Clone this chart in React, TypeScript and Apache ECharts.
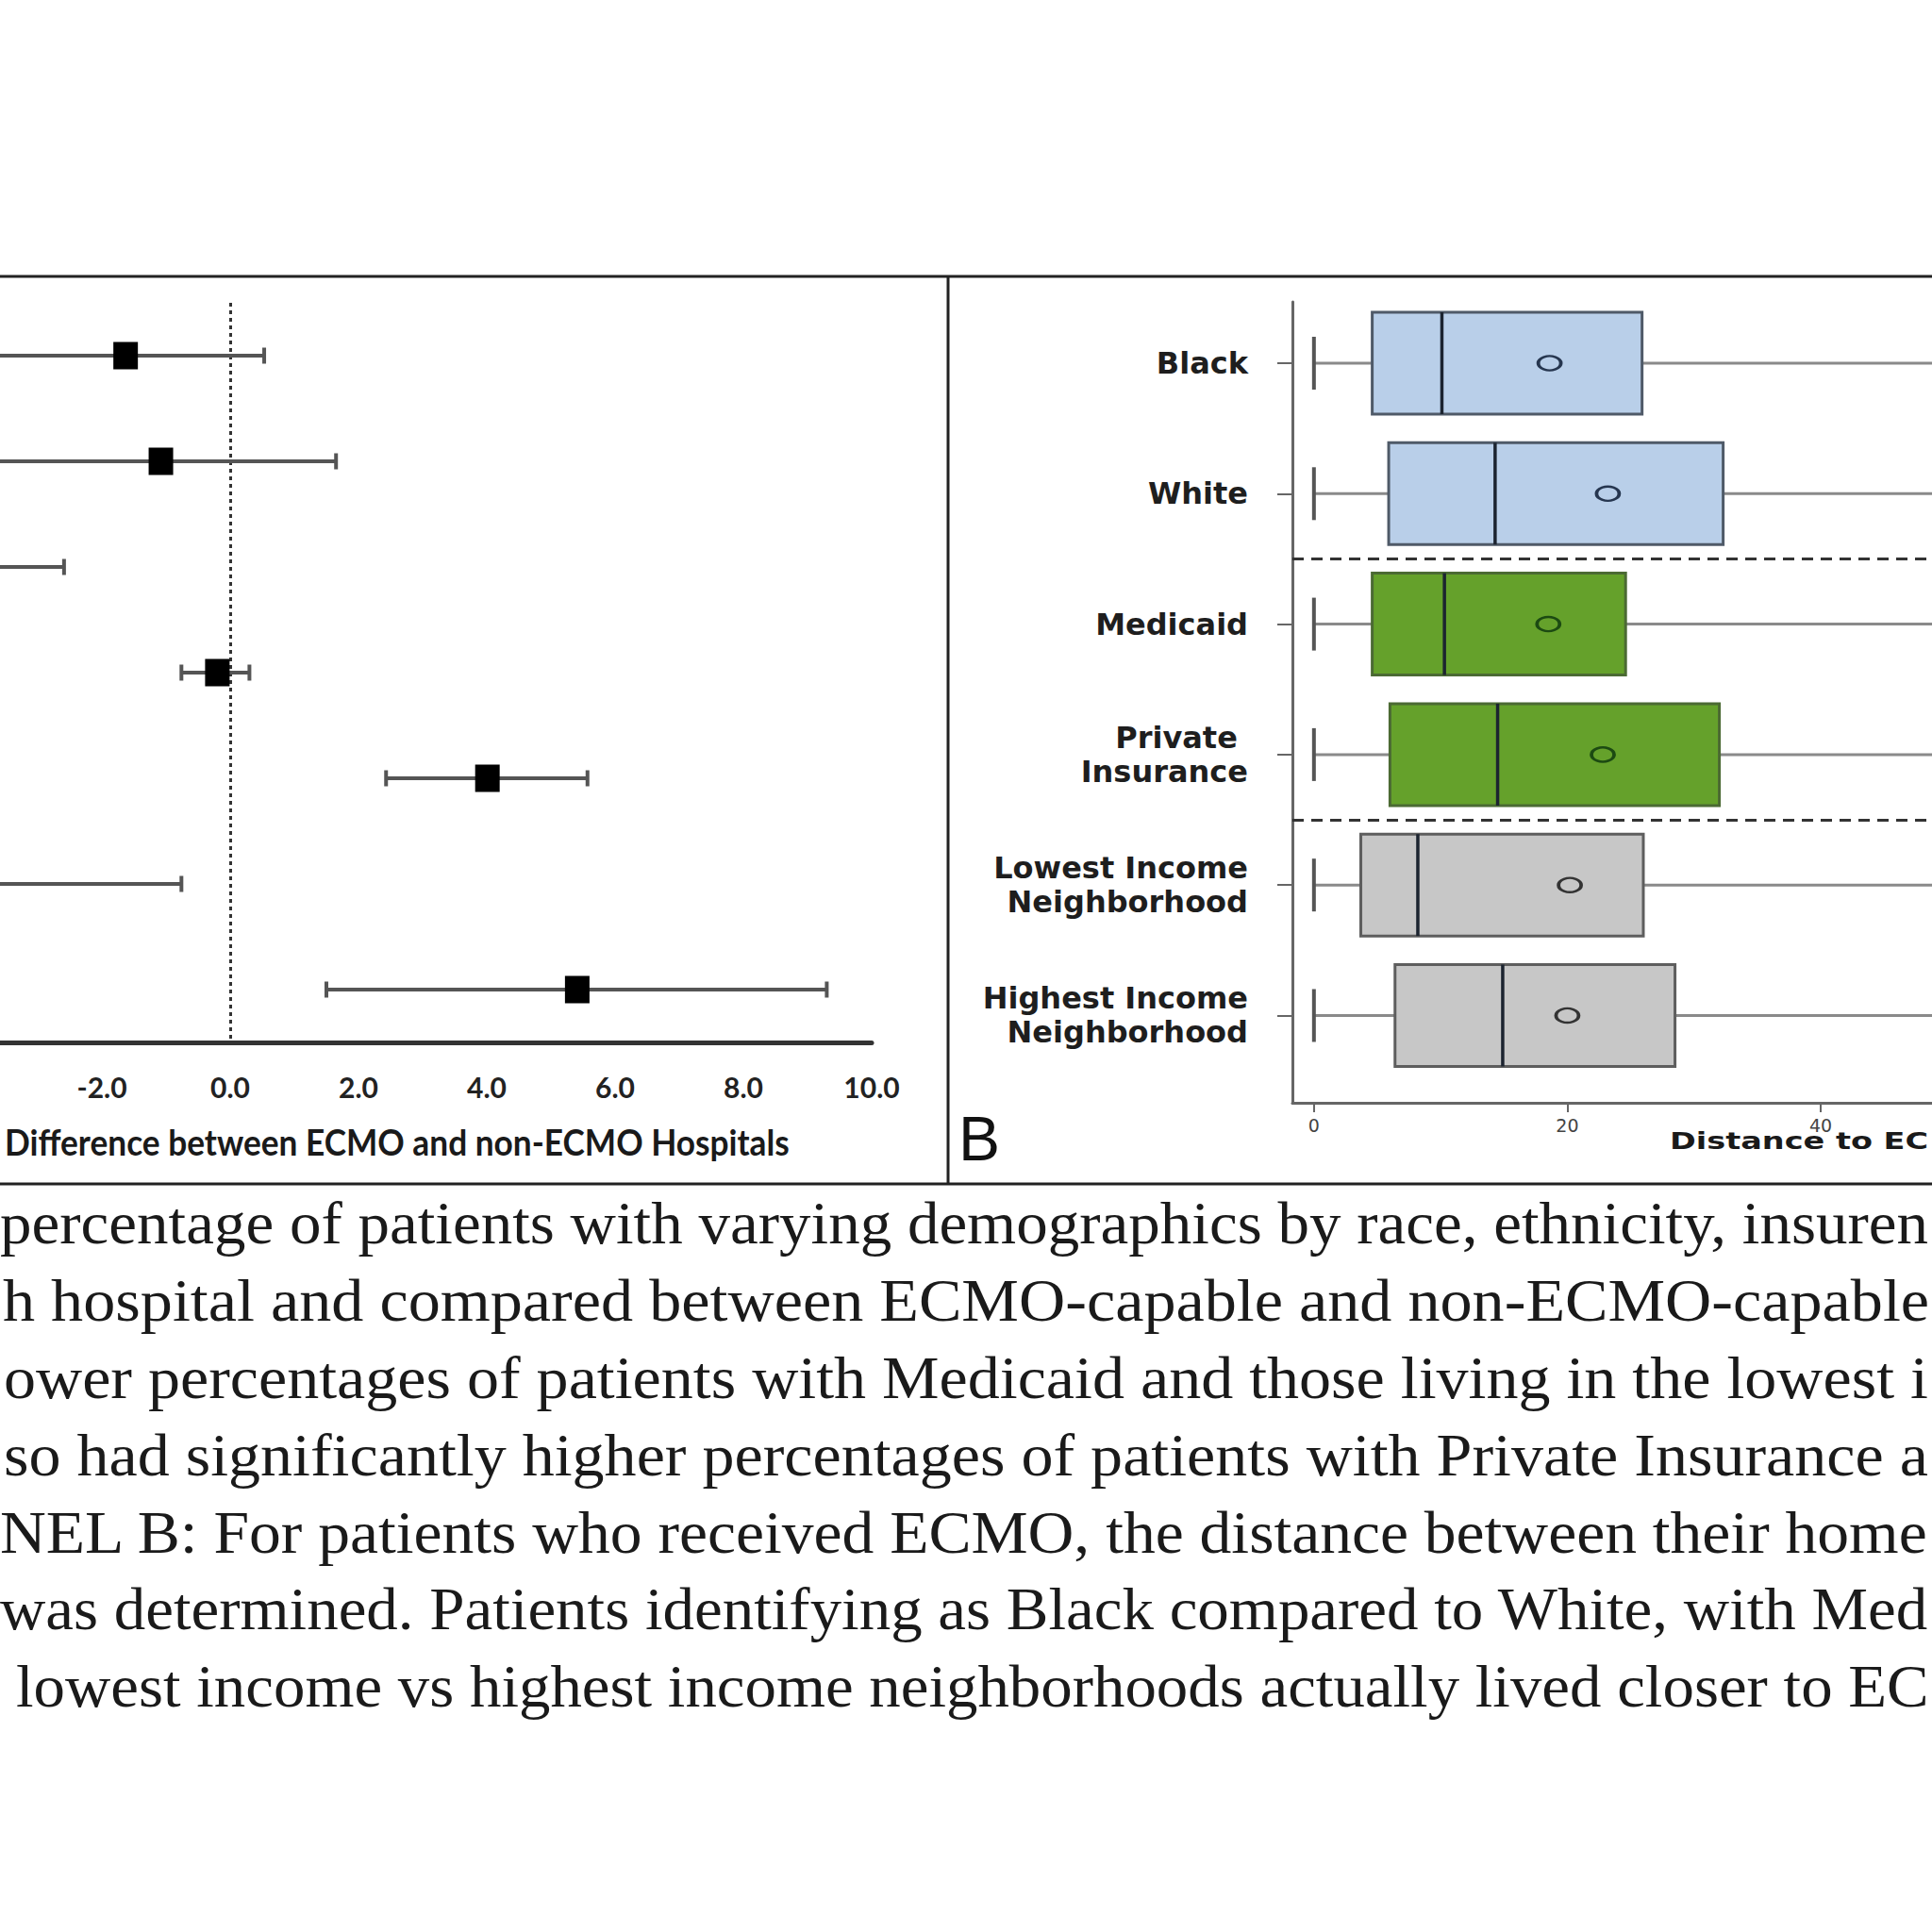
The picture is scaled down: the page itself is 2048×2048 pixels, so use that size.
import React, { useEffect, useRef } from "react";
import * as echarts from "echarts";

// ---------- Panel A: forest plot (difference between ECMO and non-ECMO hospitals) ----------
const forestRows = [
  "Black",
  "Hispanic",
  "Medicaid",
  "Medicare",
  "Private Insurance",
  "Lowest Income Neighborhood",
  "Highest Income Neighborhood",
];
const forestEstimate = [-1.63, -1.08, -5.0, -0.2, 4.01, -4.4, 5.41];
const forestLow = [-3.9, -3.8, -7.4, -0.76, 2.43, -7.9, 1.5];
const forestHigh = [0.53, 1.65, -2.59, 0.3, 5.57, -0.76, 9.3];
const forestAxisTitle = "Difference between ECMO and non-ECMO Hospitals";

// ---------- Panel B: distance to ECMO centre box plots ----------
const boxRows = [
  "Black",
  "White",
  "Medicaid",
  "Private \nInsurance",
  "Lowest Income\nNeighborhood",
  "Highest Income\nNeighborhood",
];
const boxGroup = [0, 0, 1, 1, 2, 2];
const boxMin = [0, 0, 0, 0, 0, 0];
const boxQ1 = [4.6, 5.9, 4.6, 6.0, 3.7, 6.4];
const boxMedian = [10.1, 14.3, 10.3, 14.5, 8.2, 14.9];
const boxQ3 = [25.9, 32.3, 24.6, 32.0, 26.0, 28.5];
const boxMax = [56, 58, 55, 58, 56, 57];
const boxMean = [18.6, 23.2, 18.5, 22.8, 20.2, 20.0];
const distanceTicks = [0, 20, 40];
const groupSeparators = [1.5, 3.5];
const distanceAxisTitle = "Distance to EC";

// ---------- Caption (cropped) ----------
const captionLines = [
  "percentage of patients with varying demographics by race, ethnicity, insuren",
  "h hospital and compared between ECMO-capable and non-ECMO-capable",
  "ower percentages of patients with Medicaid and those living in the lowest i",
  "so had significantly higher percentages of patients with Private Insurance a",
  "NEL B: For patients who received ECMO, the distance between their home",
  "was determined. Patients identifying as Black compared to White, with Med",
  "lowest income vs highest income neighborhoods actually lived closer to EC",
];
const captionStartX = [0, 3, 4, 4, 0, 0, 17];

const groupFill = ["#b9cfe9", "#65a12b", "#c7c7c7"];
const groupBorder = ["#4f5a68", "#4b6a33", "#5e5e5e"];
const groupMeanStroke = ["#26364f", "#1c4a12", "#333333"];

function measure(text: string, font: string): number {
  const ctx = document.createElement("canvas").getContext("2d");
  if (!ctx) return 0;
  ctx.font = font;
  return ctx.measureText(text).width;
}

function fit(text: string, font: string, width: number): number {
  const w = measure(text, font);
  return w > 0 ? width / w : 1;
}

export default function App() {
  const ref = useRef<HTMLDivElement>(null);

  useEffect(() => {
    if (!ref.current) return;
    const chart = echarts.init(ref.current, undefined, { renderer: "svg" });

    const capSize = 64;
    const capFont = `${capSize}px "Liberation Serif"`;
    const titleAScale = fit(forestAxisTitle, 'bold 39px Lato', 832);
    const titleBScale = fit(distanceAxisTitle, 'bold 25px "DejaVu Sans"', 274);

    const graphics: any[] = [
      { type: "line", shape: { x1: 0, y1: 293, x2: 2048, y2: 293 }, style: { stroke: "#222", lineWidth: 3 } },
      { type: "line", shape: { x1: 0, y1: 1255, x2: 2048, y2: 1255 }, style: { stroke: "#222", lineWidth: 3 } },
      { type: "line", shape: { x1: 1005, y1: 293, x2: 1005, y2: 1255 }, style: { stroke: "#222", lineWidth: 3 } },
      {
        type: "text",
        x: 1016,
        y: 1207,
        style: { text: "B", fontFamily: "Liberation Sans", fontSize: 66, fill: "#111", verticalAlign: "middle", align: "left" },
      },
      {
        type: "text",
        x: 5,
        y: 1210,
        scaleX: titleAScale,
        style: { text: forestAxisTitle, fontFamily: "Lato", fontWeight: "bold", fontSize: 39, fill: "#1a1a1a", verticalAlign: "middle", align: "left" },
      },
      {
        type: "text",
        x: 1770,
        y: 1210,
        scaleX: titleBScale,
        style: { text: distanceAxisTitle, fontFamily: "DejaVu Sans", fontWeight: "bold", fontSize: 25, fill: "#1a1a1a", verticalAlign: "middle", align: "left" },
      },
    ];
    captionLines.forEach((line, i) => {
      const sx = fit(line, capFont, 2045 - captionStartX[i]);
      graphics.push({
        type: "text",
        x: captionStartX[i],
        y: 1297 + i * 81.7,
        scaleX: sx,
        style: { text: line, fontFamily: "Liberation Serif", fontSize: capSize, fill: "#1a1a1a", verticalAlign: "middle", align: "left" },
      });
    });

    const option: any = {
      animation: false,
      backgroundColor: "#ffffff",
      grid: [
        { left: -300, top: 321, width: 1224, height: 784, outerBoundsMode: "none", containLabel: false },
        { left: 1370, top: 320, width: 828.6, height: 849, outerBoundsMode: "none", containLabel: false },
      ],
      xAxis: [
        {
          gridIndex: 0,
          type: "value",
          min: -8,
          max: 10,
          interval: 2,
          axisLine: { show: true, onZero: false, lineStyle: { color: "#333", width: 5 } },
          axisTick: { show: false },
          splitLine: { show: false },
          axisLabel: {
            formatter: (v: number) => (v < -3 ? "" : v.toFixed(1)),
            fontFamily: "Lato",
            fontWeight: "bold",
            fontSize: 30,
            color: "#222",
            margin: 32,
          },
        },
        {
          gridIndex: 1,
          type: "value",
          min: -1.7,
          max: 60,
          axisLine: { show: true, onZero: false, lineStyle: { color: "#666", width: 3 } },
          axisTick: { show: true, customValues: distanceTicks, length: 10, lineStyle: { color: "#666", width: 2 } },
          splitLine: { show: false },
          axisLabel: {
            customValues: distanceTicks,
            fontFamily: "DejaVu Sans",
            fontSize: 19,
            color: "#444",
            margin: 14,
          },
        },
      ],
      yAxis: [
        {
          gridIndex: 0,
          type: "category",
          inverse: true,
          data: forestRows,
          axisLine: { show: false, onZero: false },
          axisTick: { show: false },
          axisLabel: { show: false },
          splitLine: { show: false },
        },
        {
          gridIndex: 1,
          type: "value",
          inverse: true,
          min: -0.47,
          max: 5.669,
          axisLine: { show: true, onZero: false, lineStyle: { color: "#666", width: 3 } },
          axisTick: { show: true, customValues: [0, 1, 2, 3, 4, 5], length: 16, lineStyle: { color: "#666", width: 2 } },
          splitLine: { show: false },
          axisLabel: {
            customValues: [0, 1, 2, 3, 4, 5],
            formatter: (v: number) => boxRows[Math.round(v)] ?? "",
            fontFamily: "DejaVu Sans",
            fontWeight: "bold",
            fontSize: 32,
            lineHeight: 36,
            color: "#1e1e1e",
            margin: 47,
            align: "right",
          },
        },
      ],
      graphic: graphics,
      series: [
        {
          type: "custom",
          xAxisIndex: 0,
          yAxisIndex: 0,
          data: forestRows.map((_, i) => [forestLow[i], forestHigh[i], i]),
          encode: { x: [0, 1], y: 2 },
          renderItem: (params: any, api: any) => {
            const idx = api.value(2);
            const a = api.coord([api.value(0), idx]);
            const b = api.coord([api.value(1), idx]);
            const st = { stroke: "#555", lineWidth: 4 };
            return {
              type: "group",
              children: [
                { type: "line", shape: { x1: a[0], y1: a[1], x2: b[0], y2: b[1] }, style: st },
                { type: "line", shape: { x1: a[0], y1: a[1] - 8.5, x2: a[0], y2: a[1] + 8.5 }, style: st },
                { type: "line", shape: { x1: b[0], y1: b[1] - 8.5, x2: b[0], y2: b[1] + 8.5 }, style: st },
              ],
            };
          },
          z: 3,
        },
        {
          type: "scatter",
          xAxisIndex: 0,
          yAxisIndex: 0,
          data: forestEstimate.map((v, i) => [v, i]),
          symbol: "rect",
          symbolSize: [26, 29],
          itemStyle: { color: "#000", opacity: 1 },
          z: 4,
          markLine: {
            silent: true,
            symbol: ["none", "none"],
            label: { show: false },
            lineStyle: { type: [4, 4], color: "#333", width: 3 },
            data: [{ xAxis: 0 }],
            z: 2,
          },
        },
        {
          type: "custom",
          xAxisIndex: 1,
          yAxisIndex: 1,
          data: boxRows.map((_, i) => [boxMin[i], boxQ1[i], boxMedian[i], boxQ3[i], boxMax[i], i]),
          encode: { x: [0, 1, 2, 3, 4], y: 5 },
          renderItem: (params: any, api: any) => {
            const idx = api.value(5);
            const g = boxGroup[idx];
            const pMin = api.coord([api.value(0), idx]);
            const pQ1 = api.coord([api.value(1), idx]);
            const pMed = api.coord([api.value(2), idx]);
            const pQ3 = api.coord([api.value(3), idx]);
            const pMax = api.coord([api.value(4), idx]);
            const cy = pMin[1];
            const h = 108;
            const whisker = { stroke: "#8a8a8a", lineWidth: 3 };
            return {
              type: "group",
              children: [
                { type: "line", shape: { x1: pMin[0], y1: cy, x2: pQ1[0], y2: cy }, style: whisker },
                { type: "line", shape: { x1: pQ3[0], y1: cy, x2: pMax[0], y2: cy }, style: whisker },
                { type: "line", shape: { x1: pMin[0], y1: cy - 28, x2: pMin[0], y2: cy + 28 }, style: { stroke: "#555", lineWidth: 4 } },
                {
                  type: "rect",
                  shape: { x: pQ1[0], y: cy - h / 2, width: pQ3[0] - pQ1[0], height: h },
                  style: { fill: groupFill[g], stroke: groupBorder[g], lineWidth: 3 },
                },
                { type: "line", shape: { x1: pMed[0], y1: cy - h / 2, x2: pMed[0], y2: cy + h / 2 }, style: { stroke: "#1c2430", lineWidth: 3.5 } },
              ],
            };
          },
          z: 3,
        },
        {
          type: "scatter",
          xAxisIndex: 1,
          yAxisIndex: 1,
          data: boxMean.map((v, i) => ({
            value: [v, i],
            itemStyle: { color: "rgba(0,0,0,0)", borderColor: groupMeanStroke[boxGroup[i]], borderWidth: 3, opacity: 1 },
          })),
          symbol: "circle",
          symbolSize: [24, 15],
          z: 4,
          markLine: {
            silent: true,
            symbol: ["none", "none"],
            label: { show: false },
            lineStyle: { type: [12, 8], color: "#333", width: 3 },
            data: groupSeparators.map((v) => ({ yAxis: v })),
          },
        },
      ],
    };

    chart.setOption(option);
    return () => chart.dispose();
  }, []);

  return (
    <div
      ref={ref}
      style={{ position: "absolute", left: 0, top: 0, width: 2048, height: 2048, background: "#fff" }}
    />
  );
}
